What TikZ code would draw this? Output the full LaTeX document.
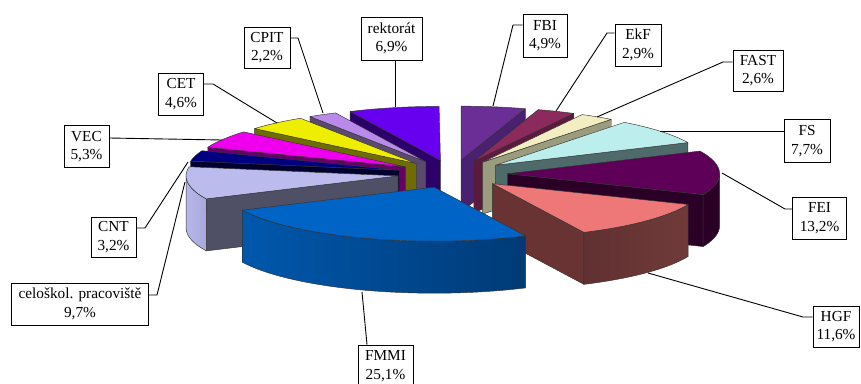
\documentclass[tikz,border=0pt]{standalone}
\usepackage{fontspec}
\setmainfont{Liberation Serif}
\usetikzlibrary{calc}

\definecolor{rekT}{HTML}{6600EE}\definecolor{rekS}{HTML}{2B0068}
\definecolor{cpiT}{HTML}{B98AEA}\definecolor{cpiS}{HTML}{5A4A6E}
\definecolor{cetT}{HTML}{EEEE00}\definecolor{cetS}{HTML}{6E6E00}
\definecolor{vecT}{HTML}{EE00EE}\definecolor{vecS}{HTML}{660066}
\definecolor{cntT}{HTML}{000080}\definecolor{cntS}{HTML}{00002E}
\definecolor{celT}{HTML}{BBBBEE}\definecolor{celS}{HTML}{4F4F66}
\definecolor{celWa}{HTML}{B6B6E8}\definecolor{celWb}{HTML}{A8A8DA}
\definecolor{fmmT}{HTML}{0063C6}\definecolor{fmmWa}{HTML}{0058AC}\definecolor{fmmWb}{HTML}{003A76}
\definecolor{hgfT}{HTML}{EE7777}\definecolor{hgfS}{HTML}{693333}
\definecolor{hgfWa}{HTML}{613030}\definecolor{hgfWb}{HTML}{703A3A}
\definecolor{feiT}{HTML}{5E0058}\definecolor{feiS}{HTML}{2A0026}
\definecolor{fsT}{HTML}{BDEEEE}\definecolor{fsS}{HTML}{4E6A6A}
\definecolor{fasT}{HTML}{F2EEC2}\definecolor{fasS}{HTML}{9B9B7E}
\definecolor{ekfT}{HTML}{8C2A5E}\definecolor{ekfS}{HTML}{5C1A3E}
\definecolor{fbiT}{HTML}{6B2D96}\definecolor{fbiS}{HTML}{4A2070}

\def\PCX{452.6}\def\PCY{174}\def\PEX{55}\def\PEY{14}
\def\PRX{212}\def\PRY{54}\def\PH{52}

% #1 start angle, #2 end angle, #3 top, #4 side, #5 wall left, #6 wall right
\newcommand\pieslice[6]{%
  \pgfmathsetmacro\slM{(#1+#2)/2}%
  \pgfmathsetmacro\slOx{\PCX+\PEX*sin(\slM)}%
  \pgfmathsetmacro\slOy{\PCY-\PEY*cos(\slM)}%
  \pgfmathsetmacro\slAx{\slOx+\PRX*sin(#1)}%
  \pgfmathsetmacro\slAy{\slOy-\PRY*cos(#1)}%
  \pgfmathsetmacro\slBx{\slOx+\PRX*sin(#2)}%
  \pgfmathsetmacro\slBy{\slOy-\PRY*cos(#2)}%
  \pgfmathtruncatemacro\slE{sin(#2)>0.001}%
  \ifnum\slE=1
    \filldraw[pieedge,fill=#4] (\slOx,\slOy) -- (\slBx,\slBy) -- (\slBx,\slBy+\PH) -- (\slOx,\slOy+\PH) -- cycle;
  \fi
  \pgfmathtruncatemacro\slS{sin(#1)<-0.001}%
  \ifnum\slS=1
    \filldraw[pieedge,fill=#4] (\slOx,\slOy) -- (\slAx,\slAy) -- (\slAx,\slAy+\PH) -- (\slOx,\slOy+\PH) -- cycle;
  \fi
  \pgfmathsetmacro\slWa{max(#1,90)}%
  \pgfmathsetmacro\slWb{min(#2,270)}%
  \pgfmathtruncatemacro\slW{\slWb>\slWa+0.01}%
  \ifnum\slW=1
    \path[pieedge,left color=#5,right color=#6]
      plot[domain=\slWa:\slWb,samples=40,variable=\t] ({\slOx+\PRX*sin(\t)},{\slOy-\PRY*cos(\t)})
      -- plot[domain=\slWb:\slWa,samples=40,variable=\t] ({\slOx+\PRX*sin(\t)},{\slOy-\PRY*cos(\t)+\PH})
      -- cycle;
  \fi
  \filldraw[pieedge,fill=#3] (\slOx,\slOy) -- (\slAx,\slAy)
    -- plot[domain=#1:#2,samples=40,variable=\t] ({\slOx+\PRX*sin(\t)},{\slOy-\PRY*cos(\t)}) -- cycle;
}

\tikzset{
  pieedge/.style={draw=black!80,line width=0.45pt,line join=round},
  lab/.style={draw=black,line width=0.8pt,fill=white,inner sep=0pt,align=center,
              font=\fontsize{15.3}{18.5}\selectfont},
  leader/.style={draw=black,line width=0.9pt,line join=round},
}

\begin{document}
\begin{tikzpicture}[x=1pt,y=-1pt]
\useasboundingbox (0,0) rectangle (861,383);

% slices, back to front
\pieslice{0}{17.64}{fbiT}{fbiS}{fbiS}{fbiS}
\pieslice{334.8}{359.64}{rekT}{rekS}{rekS}{rekS}
\pieslice{17.64}{28.08}{ekfT}{ekfS}{ekfS}{ekfS}
\pieslice{326.88}{334.8}{cpiT}{cpiS}{cpiS}{cpiS}
\pieslice{28.08}{37.44}{fasT}{fasS}{fasS}{fasS}
\pieslice{310.32}{326.88}{cetT}{cetS}{cetS}{cetS}
\pieslice{37.44}{65.16}{fsT}{fsS}{fsS}{fsS}
\pieslice{291.24}{310.32}{vecT}{vecS}{vecS}{vecS}
\pieslice{279.72}{291.24}{cntT}{cntS}{cntS}{cntS}
\pieslice{65.16}{112.68}{feiT}{feiS}{feiS}{feiS}
\pieslice{244.8}{279.72}{celT}{celS}{celWa}{celWb}
\pieslice{112.68}{154.44}{hgfT}{hgfS}{hgfWa}{hgfWb}
\pieslice{154.44}{244.8}{fmmT}{fmmT}{fmmWa}{fmmWb}

% labels
\node[lab,minimum width=61pt,minimum height=43pt] (lREK) at (391.5,38.5) {rektorát\\6,9\%};
\node[lab,minimum width=46pt,minimum height=41pt] (lCPIT) at (267,47.5) {CPIT\\2,2\%};
\node[lab,minimum width=45pt,minimum height=42pt] (lCET) at (181,94) {CET\\4,6\%};
\node[lab,minimum width=45pt,minimum height=42pt] (lVEC) at (86.5,146.5) {VEC\\5,3\%};
\node[lab,minimum width=45pt,minimum height=40pt] (lCNT) at (113.5,237) {CNT\\3,2\%};
\node[lab,minimum width=136.5pt,minimum height=42pt] (lCEL) at (80,304) {celoškol. pracoviště\\9,7\%};
\node[lab,minimum width=55pt,minimum height=42pt] (lFMMI) at (385.5,366) {FMMI\\25,1\%};
\node[lab,minimum width=46pt,minimum height=41pt] (lHGF) at (836,326.5) {HGF\\11,6\%};
\node[lab,minimum width=54pt,minimum height=42pt] (lFEI) at (819.5,218) {FEI\\13,2\%};
\node[lab,minimum width=46pt,minimum height=43pt] (lFS) at (807,141) {FS\\7,7\%};
\node[lab,minimum width=50pt,minimum height=41pt] (lFAST) at (758,70.5) {FAST\\2,6\%};
\node[lab,minimum width=46pt,minimum height=42pt] (lEkF) at (638,45) {EkF\\2,9\%};
\node[lab,minimum width=44pt,minimum height=43pt] (lFBI) at (545,35.5) {FBI\\4,9\%};

% leader anchor points on slices and elbows
\coordinate (rFBI) at (493,106);  \coordinate (eFBI) at (513,25);
\coordinate (rEkF) at (556,111);  \coordinate (eEkF) at (607,33);
\coordinate (rFAST) at (597,117); \coordinate (eFAST) at (723,62);
\coordinate (rFS) at (660,131);
\coordinate (rFEI) at (722,173);  \coordinate (eFEI) at (785,209);
\coordinate (rHGF) at (648,273);  \coordinate (eHGF) at (803,317);
\coordinate (rFMMI) at (362,292);
\coordinate (rCEL) at (185,182);  \coordinate (eCEL) at (157,295);
\coordinate (rCNT) at (188,162);  \coordinate (eCNT) at (145,228);
\coordinate (rVEC) at (222,140);
\coordinate (rCET) at (277,123);  \coordinate (eCET) at (213,84);
\coordinate (rCPIT) at (323,113); \coordinate (eCPIT) at (298,38);
\coordinate (rREK) at (395,107);

\draw[leader] (rFBI) -- (eFBI) -- (eFBI -| lFBI.west);
\draw[leader] (rEkF) -- (eEkF) -- (eEkF -| lEkF.west);
\draw[leader] (rFAST) -- (eFAST) -- (eFAST -| lFAST.west);
\draw[leader] (rFS) -- (rFS -| lFS.west);
\draw[leader] (rFEI) -- (eFEI) -- (eFEI -| lFEI.west);
\draw[leader] (rHGF) -- (eHGF) -- (eHGF -| lHGF.west);
\draw[leader] (rFMMI) -- ([xshift=-18.5pt]lFMMI.north);
\draw[leader] (rCEL) -- (eCEL) -- (eCEL -| lCEL.east);
\draw[leader] (rCNT) -- (eCNT) -- (eCNT -| lCNT.east);
\draw[leader] (rVEC) -- ([yshift=8.5pt]lVEC.east);
\draw[leader] (rCET) -- (eCET) -- (eCET -| lCET.east);
\draw[leader] (rCPIT) -- (eCPIT) -- (eCPIT -| lCPIT.east);
\draw[leader] (rREK) -- (rREK |- lREK.south);
\end{tikzpicture}
\end{document}
